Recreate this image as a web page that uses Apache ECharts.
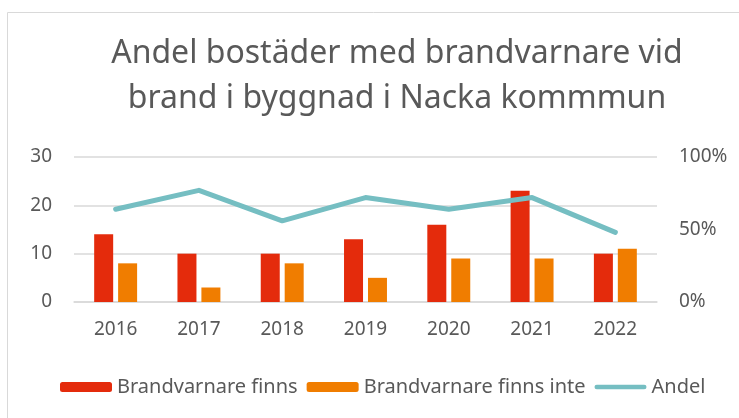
<!DOCTYPE html>
<html>
<head>
<meta charset="utf-8">
<script src="https://cdn.jsdelivr.net/npm/echarts@6/dist/echarts.min.js"></script>
<style>
  html, body { margin: 0; padding: 0; background: #fff; }
  #chart { width: 739px; height: 418px; }
</style>
</head>
<body>
<div id="chart"></div>
<script>
const years = ['2016', '2017', '2018', '2019', '2020', '2021', '2022']
const finns = [14, 10, 10, 13, 16, 23, 10]
const finnsInte = [8, 3, 8, 5, 9, 9, 11]
const andel = [0.64, 0.77, 0.56, 0.72, 0.64, 0.72, 0.48]

const textColor = '#595959'
const font = 'Noto Sans'
const lineIcon = 'path://M2.5,0 H54.5 A2.5,2.5 0 0 1 54.5,5 H2.5 A2.5,2.5 0 0 1 2.5,0 Z'

const chart = echarts.init(document.getElementById('chart'))
chart.setOption({
  animation: false,
  graphic: [{
    type: 'rect',
    shape: { x: 7.5, y: 12.5, width: 760, height: 440 },
    style: { fill: 'none', stroke: '#d9d9d9', lineWidth: 1 },
    silent: true
  }, {
    type: 'text',
    x: 397,
    y: 31,
    silent: true,
    style: {
      text: 'Andel bostäder med brandvarnare vid\nbrand i byggnad i Nacka kommmun',
      fill: textColor,
      font: '32px "Noto Sans"',
      lineHeight: 45,
      align: 'center',
      verticalAlign: 'top'
    }
  }],
  legend: {
    top: 372,
    left: 55,
    itemWidth: 52,
    itemHeight: 10,
    itemGap: 9,
    textStyle: { color: textColor, fontFamily: font, fontSize: 20 },
    data: [
      { name: 'Brandvarnare finns' },
      { name: 'Brandvarnare finns inte' },
      { name: 'Andel', icon: lineIcon }
    ]
  },
  grid: { left: 74, right: 82, top: 157, bottom: 116 },
  xAxis: {
    type: 'category',
    data: years,
    axisTick: { show: false },
    axisLine: { lineStyle: { color: '#d9d9d9', width: 1.5 } },
    axisLabel: { color: textColor, fontFamily: font, fontSize: 19, margin: 18 }
  },
  yAxis: [{
    type: 'value',
    min: 0,
    max: 30,
    interval: 10,
    axisLabel: { color: textColor, fontFamily: font, fontSize: 19, margin: 22 },
    splitLine: { lineStyle: { color: '#d9d9d9', width: 1.5 } }
  }, {
    type: 'value',
    min: 0,
    max: 1,
    interval: 0.5,
    axisLabel: {
      color: textColor, fontFamily: font, fontSize: 19, margin: 22,
      formatter: v => Math.round(v * 100) + '%'
    },
    splitLine: { show: false }
  }],
  series: [{
    name: 'Brandvarnare finns',
    type: 'bar',
    data: finns,
    barWidth: 19,
    barGap: '26%',
    itemStyle: { color: '#e42b0c' }
  }, {
    name: 'Brandvarnare finns inte',
    type: 'bar',
    data: finnsInte,
    barWidth: 19,
    itemStyle: { color: '#f07d00' }
  }, {
    name: 'Andel',
    type: 'line',
    yAxisIndex: 1,
    data: andel,
    symbol: 'none',
    lineStyle: { color: '#75bec2', width: 5, cap: 'round', join: 'round' },
    itemStyle: { color: '#75bec2' }
  }]
})
</script>
</body>
</html>
